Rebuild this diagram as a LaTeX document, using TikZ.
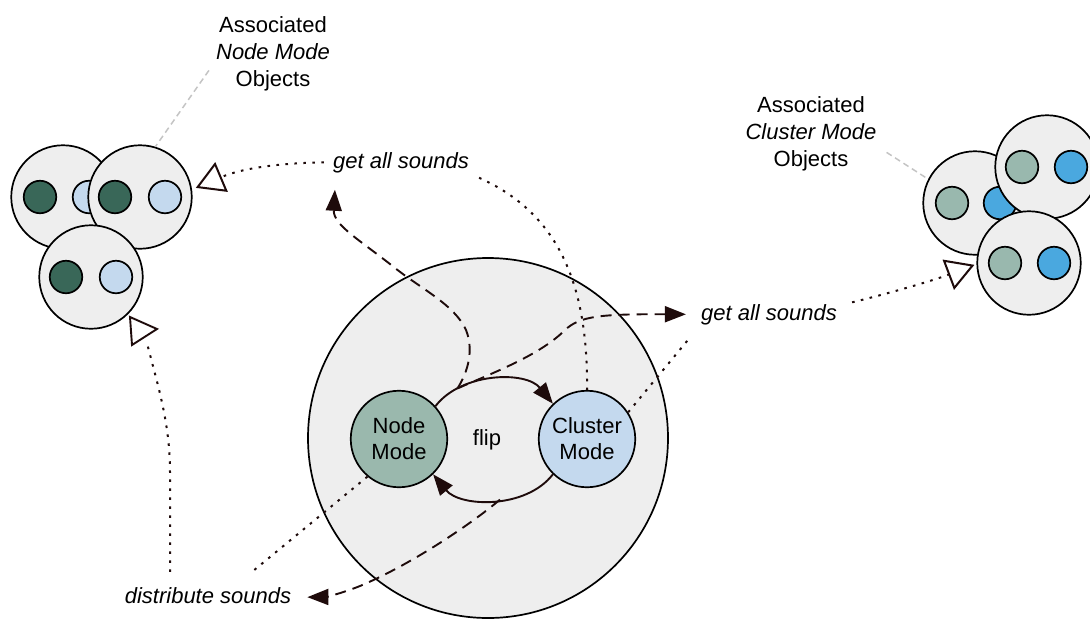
\documentclass[tikz,border=0pt]{standalone}
\usepackage{fontspec}
\setmainfont{Liberation Sans}
\usetikzlibrary{arrows.meta}
\definecolor{panel}{HTML}{EEEEEE}
\definecolor{nodegreen}{HTML}{9AB8AD}
\definecolor{clusterblue}{HTML}{C4D9EE}
\definecolor{darkgreen}{HTML}{396758}
\definecolor{sage}{HTML}{99B8AE}
\definecolor{brightblue}{HTML}{4AA8DF}
\definecolor{ink}{HTML}{1E0B0B}
\definecolor{leadergray}{HTML}{C4C4C4}

\begin{document}
\begin{tikzpicture}[x=1pt, y=-1pt,
  every node/.style={font=\fontsize{22}{27}\selectfont, inner sep=3pt},
  worldcircle/.style={circle, draw=black, line width=1.7pt, fill=panel, inner sep=0pt},
  objcircle/.style={circle, draw=black, line width=1.7pt, fill=panel, minimum size=103.5pt, inner sep=0pt},
  sounddot/.style={circle, draw=black, line width=1.7pt, minimum size=32.5pt, inner sep=0pt},
  modecircle/.style={circle, draw=black, line width=1.7pt, minimum size=96.5pt, inner sep=0pt,
    align=center, font=\fontsize{22}{26}\selectfont},
  tagtext/.style={align=center},
  calltext/.style={font=\fontsize{22}{27}\selectfont\itshape},
  flowline/.style={draw=ink, line width=1.9pt},
  dashedcall/.style={flowline, dash pattern=on 11pt off 7pt},
  dottedcall/.style={flowline, line width=2pt, dash pattern=on 2.6pt off 6.4pt},
  leaderline/.style={draw=leadergray, line width=1.5pt, dash pattern=on 6pt off 4pt},
  solidtip/.style={-{Triangle[length=21pt, width=16pt]}},
  opentip/.style={-{Triangle[open, length=28pt, width=32pt, fill=white]}},
]
\useasboundingbox (0,0) rectangle (1090,622);

% the system holding both modes
\node[worldcircle, minimum size=360pt] (world) at (488,438) {};

% node mode objects
\node[objcircle] (A) at (63,197) {};
\node[sounddot, fill=darkgreen] (A1) at (40,197) {};
\node[sounddot, fill=clusterblue] (A2) at (89,197) {};
\node[objcircle] (B) at (140,197) {};
\node[sounddot, fill=darkgreen] (B1) at (115,197) {};
\node[sounddot, fill=clusterblue] (B2) at (165,197) {};
\node[objcircle] (C) at (91,277) {};
\node[sounddot, fill=darkgreen] (C1) at (66,277) {};
\node[sounddot, fill=clusterblue] (C2) at (116,277) {};

% cluster mode objects
\node[objcircle] (D) at (975,203) {};
\node[sounddot, fill=sage] (D1) at (952,203) {};
\node[sounddot, fill=brightblue] (D2) at (1000,203) {};
\node[objcircle] (E) at (1047,167) {};
\node[sounddot, fill=sage] (E1) at (1022,167) {};
\node[sounddot, fill=brightblue] (E2) at (1071,167) {};
\node[objcircle] (F) at (1029,263) {};
\node[sounddot, fill=sage] (F1) at (1005,263) {};
\node[sounddot, fill=brightblue] (F2) at (1054,263) {};

% captions
\node[tagtext] (lblL) at (273,53.4) {Associated\\\textit{Node Mode}\\Objects};
\node[tagtext] (lblR) at (811,133.4) {Associated\\\textit{Cluster Mode}\\Objects};
\draw[leaderline] ([shift={(-4,17)}]lblL.west) -- (B.73);
\draw[leaderline] ([shift={(7,19)}]lblR.east) -- (D.153);

% the two modes
\node[modecircle, fill=nodegreen] (nm) at (399,439) {Node\\Mode};
\node[modecircle, fill=clusterblue] (cm) at (587,439) {Cluster\\Mode};
\node[anchor=base] (flip) at (487,445) {flip};

% call labels
\node[calltext, anchor=base] (gas1) at (401,168) {get all sounds};
\node[calltext, anchor=base] (gas2) at (769,320) {get all sounds};
\node[calltext, anchor=base] (dist) at (208,603) {distribute sounds};

% flip transitions
\draw[flowline, solidtip] (nm.42) .. controls +(26,-34) and +(-27,-33) .. (cm.134)
  coordinate[pos=0.22] (fl);
\draw[flowline, solidtip] (cm.-134) .. controls +(-27,35) and +(27,33) .. (nm.-46)
  coordinate[pos=0.45] (fl2);

% requests issued while flipping
\draw[dashedcall, solidtip] (fl) .. controls (468,372) and (474,350) .. (466,330)
  .. controls (455,305) and (420,288) .. (395,268)
  .. controls (360,240) and (333,225) .. ([shift={(5,14)}]gas1.south west);
\draw[dashedcall, solidtip] (fl) .. controls (495,372) and (540,355) .. (565,330)
  .. controls (580,316) and (600,314) .. ([xshift=-12pt]gas2.west);
\draw[dashedcall, solidtip] (fl2) .. controls (470,525) and (410,565) .. (360,586)
  .. controls (340,594) and (325,597) .. ([shift={(13,2)}]dist.east);

% answers and deliveries
\draw[dottedcall, opentip] ([xshift=-6pt]gas1.west) .. controls +(-50,1) and +(45,-19) .. ([xshift=4pt]B.10);
\draw[dottedcall] ([shift={(7,2)}]gas1.south east) .. controls +(83,37) and +(1,-100) .. (cm.north);
\draw[dottedcall] (cm.33) -- ([shift={(-9,11)}]gas2.south west);
\draw[dottedcall, opentip] ([shift={(12,-12)}]gas2.east) .. controls +(33,-8) and +(-45,17) .. ([xshift=-2pt]F.182);
\draw[dottedcall] (nm.-130) -- ([shift={(44,-12)}]dist.north);
\coordinate (ctail) at ([shift={(56,66)}]C.center);
\draw[dottedcall] ([shift={(-38,-12)}]dist.north) -- +(0,-100)
  .. controls +(0,-50) and +(10,40) .. (ctail);
\draw[draw=ink, line width=1.9pt, line join=miter, fill=white]
  ([shift={(66,52)}]C.center) -- ([shift={(39,40)}]C.center) -- ([shift={(41,68)}]C.center) -- cycle;
\end{tikzpicture}
\end{document}
